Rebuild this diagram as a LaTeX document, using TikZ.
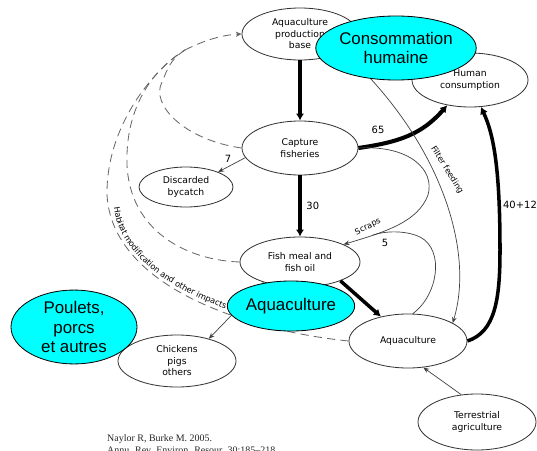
\documentclass[tikz,border=0pt]{standalone}
\usepackage{fontspec}
\newfontfamily\lblfont{DejaVu Sans}
\newfontfamily\frfont{Liberation Sans}
\newfontfamily\citefont{Liberation Serif}
\newcommand\nodefont{\lblfont\fontsize{7.9}{9.8}\selectfont}
\newcommand\habfont{\lblfont\fontsize{7}{8}\selectfont}
\definecolor{frcyan}{RGB}{0,255,255}
\usetikzlibrary{
  shapes.geometric,
  arrows.meta,
  decorations.text
}

\begin{document}
\begin{tikzpicture}[x=0.03cm,y=-0.03cm,
  blob/.style={ellipse,draw=black!80,line width=0.7pt,fill=white,inner sep=0pt,align=center,font=\nodefont},
  fr/.style={ellipse,draw=black,line width=0.7pt,fill=frcyan,inner sep=0pt,align=center,font=\frfont\fontsize{14.4}{17}\selectfont},
  bigflow/.style={line width=3pt,-{Latex[length=6pt,width=7pt]}},
  flow/.style={line width=0.6pt,draw=black!75,-{Stealth[length=5pt,width=4pt]}},
  impact/.style={line width=0.7pt,draw=black!60,dash pattern=on 7pt off 4.5pt},
  num/.style={font=\lblfont\fontsize{8.5}{10}\selectfont,inner sep=1pt},
  tag/.style={font=\habfont,inner sep=0pt}]
\useasboundingbox (0,0) rectangle (537,450);
\clip (0,0) rectangle (537,450);

\node[blob,minimum width=3.48cm,minimum height=1.56cm] (pbase) at (300,34) {Aquaculture\\production\\base};
\node[blob,minimum width=3.48cm,minimum height=1.62cm] (hcons) at (470,80) {Human\\consumption};
\node[blob,minimum width=3.48cm,minimum height=1.62cm] (capt) at (300,148) {Capture\\fisheries};
\node[blob,minimum width=2.82cm,minimum height=1.2cm] (bycatch) at (186,187) {Discarded\\bycatch};
\node[blob,minimum width=3.6cm,minimum height=1.5cm] (fmeal) at (300,262) {Fish meal and\\fish oil};
\node[blob,minimum width=3.54cm,minimum height=1.62cm] (aqua) at (408,341) {Aquaculture};
\node[blob,minimum width=3.54cm,minimum height=1.68cm] (terr) at (477,422) {Terrestrial\\agriculture};
\node[blob,minimum width=3.54cm,minimum height=1.56cm] (chick) at (177,361) {Chickens\\pigs\\others};

% dashed impacts back to the production base
\coordinate (junc) at (185,50);
\draw[impact] (aqua.west) .. controls (300,336) and (255,325) .. (220,311)
  .. controls (160,288) and (110,250) .. (107,195)
  .. controls (106,125) and (155,68) .. (junc);
\draw[impact] (fmeal.west) .. controls (185,260) and (130,230) .. (127,165)
  .. controls (125,105) and (155,68) .. (junc);
\draw[impact] (capt.west) .. controls (185,140) and (150,105) .. (162,82)
  .. controls (168,68) and (170,60) .. (junc);
\draw[impact,-{Stealth[length=5pt,width=4.5pt]}] (junc) .. controls (205,40) and (222,35) .. (pbase.west);
\path[decorate,decoration={text along path,raise=2.5pt,
  text={|\habfont|Habitat modification and other impacts}}]
  (111,208) .. controls (117,255) and (165,292) .. (232,314);

% main flows
\draw[bigflow] (pbase) -- (capt);
\draw[bigflow] (capt) -- node[num,right=3pt] (n30) {30} (fmeal);
\draw[bigflow,line width=3.5pt] (capt.east) .. controls (400,142) and (422,134) .. (hcons.228);
\node[num] (n65) at (378,130) {65};
\draw[bigflow] (fmeal.335) -- (aqua.138);
\draw[bigflow] (aqua.east) .. controls (495,332) and (500,300) .. (500,250)
  .. controls (500,170) and (494,135) .. (hcons.292);
\node[num] (n40) at (520,205) {40+12};

% thin flows
\draw[flow] (capt.190) -- (bycatch.25);
\node[num] (n7) at (228,159) {7};
\draw[flow] (fmeal.209) -- (chick.35);
\draw[flow] (terr.120) -- (aqua.300);
\draw[flow] (pbase.338) .. controls (440,140) and (475,250) .. (aqua.22);
\node[tag,rotate=-58] (filt) at (447,170) {Filter feeding};
\draw[flow] (capt.east) .. controls (410,145) and (435,170) .. (428,195)
  .. controls (418,222) and (385,232) .. (fmeal.22);
\coordinate (merge) at (373,235);
\draw[line width=0.6pt,draw=black!75] (aqua.80) .. controls (438,295) and (445,250) .. (420,237)
  .. controls (405,230) and (385,231) .. (merge);
\node[tag,rotate=27] (scraps) at (368,227) {Scraps};
\node[num] (n5) at (385,243) {5};

% French overlays
\node[fr,minimum width=4.32cm,minimum height=1.92cm] (frhum) at (396,48) {Consommation\\humaine};
\node[fr,minimum width=3.78cm,minimum height=1.5cm] (fraqua) at (291,306) {Aquaculture};
\node[fr,minimum width=3.78cm,minimum height=1.98cm] (frpoul) at (74,327) {Poulets,\\porcs\\et autres};

\node[anchor=north west,align=left,inner sep=0pt,text=black!85,font=\citefont\fontsize{8.5}{10.7}\selectfont] (cite) at (107,434)
  {Naylor R, Burke M. 2005.\\Annu. Rev. Environ. Resour. 30:185\textendash 218};
\end{tikzpicture}
\end{document}
